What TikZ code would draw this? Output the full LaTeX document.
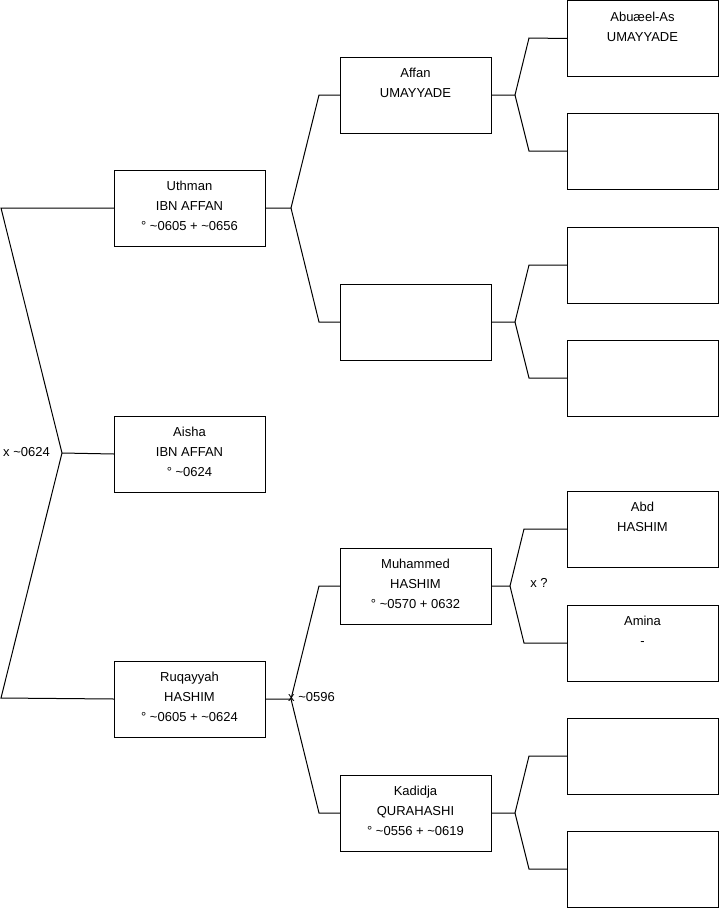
\documentclass[tikz,border=0pt]{standalone}
\usepackage{fontspec}
\setmainfont{Liberation Sans}
\begin{document}
\begin{tikzpicture}[x=1pt,y=-1pt,
  box/.style={draw=black,line width=1pt,minimum width=151pt,minimum height=76pt,inner sep=0pt,outer sep=0pt,anchor=north west},
  txt/.style={anchor=north,inner sep=0pt,align=center,font=\fontsize{13}{20}\selectfont},
  lbl/.style={inner sep=0pt,font=\fontsize{13}{15}\selectfont},
  conn/.style={line width=1pt,black,line join=miter}]
\useasboundingbox (0,0) rectangle (719,908);
% boxes
\node[box] (uth) at (114,170) {};
\node[box] (ais) at (114,416) {};
\node[box] (ruq) at (114,661) {};
\node[box] (aff) at (340,57) {};
\node[box] (emp) at (340,284) {};
\node[box] (muh) at (340,548) {};
\node[box] (kad) at (340,775) {};
\node[box] (r1) at (567,0.5) {};
\node[box] (r2) at (567,113) {};
\node[box] (r3) at (567,227) {};
\node[box] (r4) at (567,340) {};
\node[box] (r5) at (567,491) {};
\node[box] (r6) at (567,605) {};
\node[box] (r7) at (567,718) {};
\node[box] (r8) at (567,831) {};
% texts
\node[txt] (tuth) at ([yshift=-11.3pt]uth.north) {Uthman\\IBN AFFAN\\° \textasciitilde0605 + \textasciitilde0656};
\node[txt] (tais) at ([yshift=-11.3pt]ais.north) {Aisha\\IBN AFFAN\\° \textasciitilde0624};
\node[txt] (truq) at ([yshift=-11.3pt]ruq.north) {Ruqayyah\\HASHIM\\° \textasciitilde0605 + \textasciitilde0624};
\node[txt] (taff) at ([yshift=-11.3pt]aff.north) {Affan\\UMAYYADE};
\node[txt] (tmuh) at ([yshift=-11.3pt]muh.north) {Muhammed\\HASHIM\\° \textasciitilde0570 + 0632};
\node[txt] (tkad) at ([yshift=-11.3pt]kad.north) {Kadidja\\QURAHASHI\\° \textasciitilde0556 + \textasciitilde0619};
\node[txt] (tr1) at ([yshift=-11.3pt]r1.north) {Abuæel-As\\UMAYYADE};
\node[txt] (tr5) at ([yshift=-11.3pt]r5.north) {Abd\\HASHIM};
\node[txt] (tr6) at ([yshift=-11.3pt]r6.north) {Amina\\-};
% left fork
\coordinate (lt) at (1,208);
\coordinate (lm) at (62,453);
\coordinate (lb) at (1,698);
\draw[conn] (uth.west) -- (lt) -- (lm) -- (lb) -- (ruq.west);
\draw[conn] (lm) -- (ais.west);
\node[lbl,anchor=west] (x1) at (3,452) {x \textasciitilde0624};
% Uthman fork
\coordinate (ju) at (291,208);
\draw[conn] (uth.east) -- (ju) -- (319,95) -- (aff.west);
\draw[conn] (ju) -- (319,322) -- (emp.west);
% Ruqayyah fork
\coordinate (jr) at (291,699);
\draw[conn] (ruq.east) -- (jr) -- (319,586) -- (muh.west);
\draw[conn] (jr) -- (319,813) -- (kad.west);
\node[lbl,anchor=west] (x2) at (288,697) {x \textasciitilde0596};
% Affan fork
\coordinate (ja) at (515,95);
\draw[conn] (aff.east) -- (ja) -- (529,38) -- (r1.west);
\draw[conn] (ja) -- (529,151) -- (r2.west);
% empty fork
\coordinate (je) at (515,322);
\draw[conn] (emp.east) -- (je) -- (529,265) -- (r3.west);
\draw[conn] (je) -- (529,378) -- (r4.west);
% Muhammed fork
\coordinate (jm) at (510,586);
\draw[conn] (muh.east) -- (jm) -- (524,529) -- (r5.west);
\draw[conn] (jm) -- (524,643) -- (r6.west);
\node[lbl] (x3) at (539,583) {x ?};
% Kadidja fork
\coordinate (jk) at (515,813);
\draw[conn] (kad.east) -- (jk) -- (529,756) -- (r7.west);
\draw[conn] (jk) -- (529,869) -- (r8.west);
\end{tikzpicture}
\end{document}
